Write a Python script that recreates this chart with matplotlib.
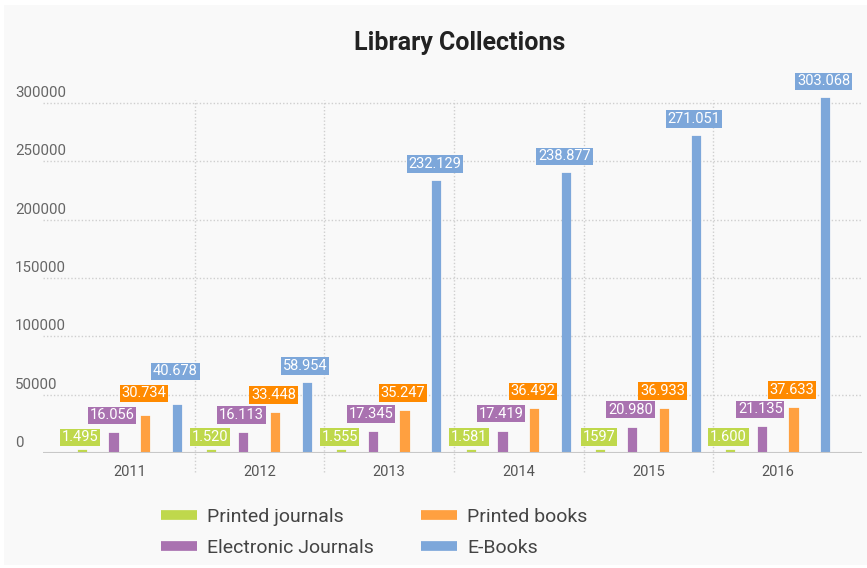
import matplotlib
matplotlib.use("Agg")
import matplotlib.pyplot as plt
import matplotlib.transforms as mtransforms
from matplotlib.lines import Line2D
from matplotlib.patches import Rectangle

plt.rcParams['font.family'] = ['Roboto', 'DejaVu Sans']

years = ["2011", "2012", "2013", "2014", "2015", "2016"]
series_names = ["Printed journals", "Electronic Journals", "Printed books", "E-Books"]
printed_journals = [1495, 1520, 1555, 1581, 1597, 1600]
electronic_journals = [16056, 16113, 17345, 17419, 20980, 21135]
printed_books = [30734, 33448, 35247, 36492, 36933, 37633]
e_books = [40678, 58954, 232129, 238877, 271051, 303068]
printed_journals_labels = ["1.495", "1.520", "1.555", "1.581", "1597", "1.600"]
electronic_journals_labels = ["16.056", "16.113", "17.345", "17.419", "20.980", "21.135"]
printed_books_labels = ["30.734", "33.448", "35.247", "36.492", "36.933", "37.633"]
e_books_labels = ["40.678", "58.954", "232.129", "238.877", "271.051", "303.068"]
y_ticks = [0, 50000, 100000, 150000, 200000, 250000, 300000]

bar_colors = ["#bfd84c", "#a972b0", "#ffa040", "#7da7da"]
label_colors = ["#bfd84c", "#a972b0", "#ff8a00", "#7da7da"]
label_gap = [7, 12, 12, 11]

W, H = 867, 568
fig = plt.figure(figsize=(W / 100, H / 100), dpi=100)
fig.patch.set_facecolor("white")
fig.patches.append(Rectangle((4 / W, 3 / H), (W - 4) / W, (H - 8) / H,
                             transform=fig.transFigure, facecolor="#f9f9f9",
                             edgecolor="none", zorder=-10))

left_px, right_px, top_px, bottom_px = 43, 862, 100, 453
ax = fig.add_axes([left_px / W, (H - bottom_px) / H, (right_px - left_px) / W,
                   (bottom_px - top_px) / H])
ax.set_facecolor("none")

cat_w = 129.6
x0 = -0.5 - (65 - left_px) / cat_w
x1 = 5.5 + (right_px - 843) / cat_w
ax.set_xlim(x0, x1)
ax.set_ylim(0, 300000 * (bottom_px - top_px) / (bottom_px - 103))

for s in ax.spines.values():
    s.set_visible(False)
ax.set_xticks([])
ax.set_yticks([])

# horizontal grid
for v in y_ticks[1:]:
    ax.axhline(v, color="#cfcfcf", lw=1, ls=(0, (1, 1.5)), zorder=0)
ax.axhline(0, color="#c8c8c8", lw=1.5, zorder=3)

# vertical grid + ticks (category boundaries)
blend = mtransforms.blended_transform_factory(ax.transData, ax.transAxes)
tick_len = 19 / (bottom_px - top_px)
for i in range(len(years) - 1):
    ax.plot([i + 0.5, i + 0.5], [-tick_len, 1], transform=blend, color="#cfcfcf",
            lw=1, ls=(0, (1, 1.5)), clip_on=False, zorder=0)

clip_rect = Rectangle((0, 0), 1, 1.3, transform=ax.transAxes, facecolor="none",
                      edgecolor="none")

series = [printed_journals, electronic_journals, printed_books, e_books]
labels = [printed_journals_labels, electronic_journals_labels,
          printed_books_labels, e_books_labels]
spacing = 0.245
bar_w = 0.055
anns = [[None] * 4 for _ in years]
for k, (vals, labs) in enumerate(zip(series, labels)):
    off = (k - 1.5) * spacing
    xs = [i + off for i in range(len(years))]
    bars = ax.bar(xs, vals, width=bar_w, color=bar_colors[k], edgecolor=bar_colors[k],
                  linewidth=1.6, zorder=2)
    for b in bars:
        b.set_clip_path(clip_rect)
    for i, (x, v, t) in enumerate(zip(xs, vals, labs)):
        anns[i][k] = ax.annotate(
            t, (x, v), xytext=(-2, label_gap[k]), textcoords="offset pixels",
            ha="center", va="bottom", color="white", fontsize=10.5,
            bbox=dict(boxstyle="square,pad=0.12", fc=label_colors[k], ec="none"),
            zorder=5, annotation_clip=False)

# simple overlap avoidance inside each year group
fig.canvas.draw()
renderer = fig.canvas.get_renderer()
for i in range(len(years)):
    placed = []
    for k in range(4):
        a = anns[i][k]
        for _ in range(10):
            bb = a.get_window_extent(renderer).padded(2)
            hit = None
            for pb in placed:
                if bb.x1 > pb.x0 and bb.x0 < pb.x1 and bb.y1 > pb.y0 and bb.y0 < pb.y1:
                    hit = pb
                    break
            if hit is None:
                break
            dx, dy = a.xyann
            a.xyann = (dx, dy + (hit.y1 - bb.y0) + 4)
        placed.append(a.get_window_extent(renderer).padded(2))

# y tick labels
ytrans = mtransforms.blended_transform_factory(ax.transAxes, ax.transData)
ytrans = mtransforms.offset_copy(ytrans, fig=fig, x=0, y=6, units="dots")
for v in y_ticks:
    ax.text((15 - left_px) / (right_px - left_px), v, str(v), transform=ytrans,
            ha="left", va="baseline", fontsize=10.8, color="#666666")

# x tick labels
for i, yr in enumerate(years):
    ax.text(i, -(472 - bottom_px) / (bottom_px - top_px), yr, transform=blend,
            ha="center", va="center", fontsize=10.5, color="#555555")

fig.text(460 / W, 1 - 43 / H, "Library Collections", ha="center", va="center",
         fontsize=18, fontweight="bold", color="#222222")

handles = [Line2D([0], [0], color=bar_colors[k], lw=7, solid_capstyle="butt")
           for k in range(4)]
leg = fig.legend(handles, series_names, ncol=2, loc="upper left",
                 bbox_to_anchor=(161 / W, 1 - 508 / H), frameon=False,
                 fontsize=14, handlelength=1.85, handletextpad=0.5,
                 columnspacing=2.45, labelspacing=0.68, borderpad=0,
                 borderaxespad=0)
for t in leg.get_texts():
    t.set_color("#444444")

fig.savefig("out.png", dpi=100, facecolor=fig.get_facecolor())
